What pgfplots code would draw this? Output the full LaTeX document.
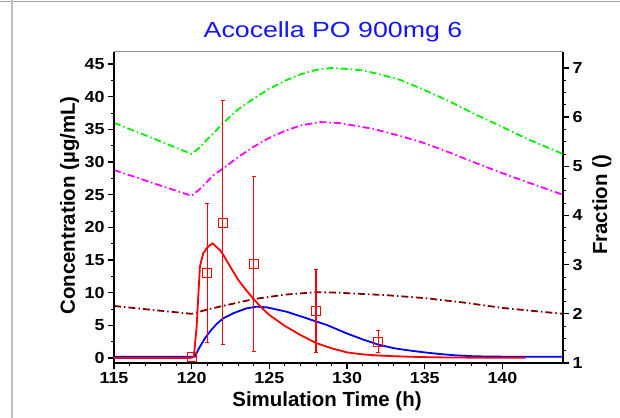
\documentclass[border=0pt]{standalone}
\usepackage{pgfplots}
\pgfplotsset{compat=1.18}
\usepackage{fontspec}
\setmainfont{Liberation Sans}
\newfontfamily\titlefont[FakeStretch=1.22]{Liberation Sans}
\newfontfamily\tickfont[FakeStretch=1.12]{Liberation Sans}
\definecolor{cgreen}{RGB}{0,240,0}
\definecolor{cmagenta}{RGB}{255,0,255}
\definecolor{cbrown}{RGB}{128,0,0}
\definecolor{cred}{RGB}{255,0,0}
\definecolor{cblue}{RGB}{0,0,255}
\definecolor{ctitle}{RGB}{20,20,255}

\pgfplotstableread{
x y
115 0
119.9 0
120.14 0.2
120.32 4.8
120.53 14.0
120.74 16.0
121.0 16.9
121.34 17.55
121.82 16.5
122.03 15.8
122.5 13.9
123.0 11.94
123.5 10.4
124.0 8.98
124.5 7.7
125.0 6.58
126.0 4.9
127.0 3.52
128.0 2.3
129.0 1.48
130.0 0.85
131.0 0.55
132.0 0.38
133.0 0.27
134.0 0.19
135.0 0.13
136.0 0.09
138.0 0.05
141.5 0.02
}\redline

\pgfplotstableread{
x y
115 0.2
120.2 0.2
120.53 1.73
120.85 3.0
121.17 4.03
121.6 5.2
122.03 6.07
122.67 6.84
123.53 7.6
124.18 7.85
124.82 7.75
126.1 7.09
127.4 6.07
128.7 5.05
129.96 3.78
131 2.85
132 2.05
133 1.5
134 1.15
135 0.85
136 0.6
137 0.4
138 0.28
139 0.22
140 0.2
143.9 0.2
}\blueline

\pgfplotstableread{
x y ey
120 0.1 0
121 13.0 10.7
122 20.7 18.7
124 14.4 13.45
128 7.2 6.3
132 2.5 1.7
}\obs

\pgfplotstableread{
x y
115 5.885
117.5 5.57
120 5.25
120.5 5.38
121 5.55
121.4 5.67
122 5.875
123 6.16
124 6.38
125 6.58
126 6.74
127 6.87
128 6.96
129 7.0
130 6.98
131 6.95
132 6.88
133.4 6.76
135 6.55
136.6 6.32
138.1 6.08
140 5.8
141.5 5.57
143.9 5.25
}\greenline

\pgfplotstableread{
x y
115 4.925
117.5 4.66
120 4.40
120.5 4.53
121 4.69
121.4 4.82
122 4.95
123 5.19
124 5.40
125 5.58
126 5.72
127 5.83
128.25 5.9
129.5 5.88
130.8 5.81
131.7 5.76
133.4 5.62
135 5.47
136.6 5.28
138.1 5.09
140 4.86
141.5 4.69
143.9 4.42
}\magline

\pgfplotstableread{
x y
115 2.16
117.3 2.085
120 2.0
121.17 2.10
122 2.16
124 2.30
126 2.39
128 2.44
129.5 2.43
130 2.42
132.5 2.38
135 2.32
137.5 2.23
140 2.12
143.9 2.0
}\brownline

\pgfplotsset{
  common/.style={
    scale only axis, width=449bp, height=311bp,
    xmin=115, xmax=143.9,
    tick align=outside,
    major tick length=6bp, minor tick length=3bp,
    major tick style={line width=1.3bp, black},
    minor tick style={line width=0.9bp, black},
    axis line style={line width=1.6bp, black},
    /pgf/number format/assume math mode=true,
    tick label style={font=\tickfont\bfseries\fontsize{16}{16}\selectfont},
    label style={font=\bfseries\fontsize{20.5}{20.5}\selectfont},
  },
  dd/.style={line width=1.8bp, dash pattern=on 7bp off 3bp on 1.5bp off 3bp},
}

\begin{document}
\begin{tikzpicture}
\useasboundingbox (-114bp,-55bp) rectangle (506bp,363bp);
\draw[black!35, line width=1.2bp] (-114bp,361.7bp) -- (506bp,361.7bp);
\draw[black!25, line width=1.2bp] (-102bp,363bp) -- (-102bp,-55bp);
\node[anchor=base, inner sep=0pt, text=ctitle, font=\titlefont\fontsize{22}{22}\selectfont] at (219bp,325.7bp) {Acocella PO 900mg 6};

\begin{axis}[common,
  ymin=1, ymax=7.325,
  axis y line*=right, axis x line=none,
  ytick={1,2,...,7}, minor y tick num=3,
  ylabel={Fraction ()},
  ylabel style={at={(axis description cs:1.098,0.508)}, anchor=base, rotate=0},
]
\addplot[cgreen, dd] table {\greenline};
\addplot[cmagenta, dd] table {\magline};
\addplot[cbrown, dd] table {\brownline};
\end{axis}

\begin{axis}[common,
  ymin=-0.77, ymax=46.84,
  axis x line*=bottom, axis y line*=left,
  xtick={115,120,...,140}, minor x tick num=4,
  ytick={0,5,...,45}, minor y tick num=1,
  xlabel={Simulation Time (h)},
  ylabel={Concentration (µg/mL)},
  xlabel style={at={(axis description cs:0.4744,-0.1383)}, anchor=base},
  ylabel style={at={(axis description cs:-0.0869,0.5064)}, anchor=base},
]
\draw[black!45, line width=1bp] (rel axis cs:0,1) -- (rel axis cs:1,1);
\addplot[cblue, line width=1.8bp] table {\blueline};
\addplot[cred, line width=1.8bp] table {\redline};
\addplot[color=cred, only marks, mark=square, mark size=4.5bp, mark options={draw=cred, line width=0.9bp, fill=none},
  error bars/.cd, y dir=both, y explicit,
  error bar style={draw=cred, color=cred, line width=1.2bp},
  error mark options={rotate=90, mark size=2.2bp, line width=1bp, draw=cred, color=cred}]
  table[x=x, y=y, y error=ey] {\obs};
\end{axis}
\end{tikzpicture}
\end{document}
